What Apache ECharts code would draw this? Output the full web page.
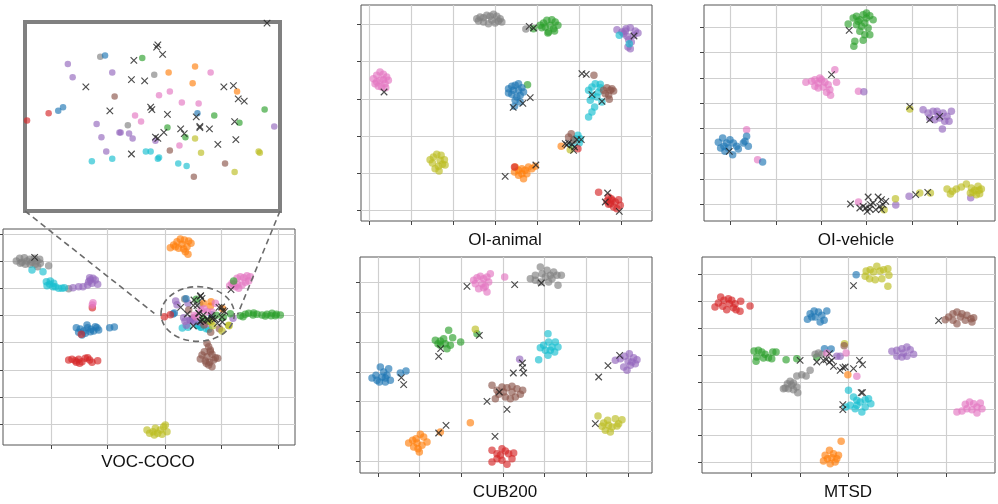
<!DOCTYPE html>
<html>
<head>
<meta charset="utf-8">
<script src="https://cdn.jsdelivr.net/npm/echarts@6/dist/echarts.min.js"></script>
<style>html,body{margin:0;padding:0;background:#fff}#c{width:998px;height:504px}</style>
</head>
<body>
<div id="c"></div>
<script>
// ---------- panel titles ----------
const panelTitles = ['VOC-COCO', 'OI-animal', 'OI-vehicle', 'CUB200', 'MTSD'];

// ---------- VOC-COCO (units: embedding coordinates) ----------
const vocBlue = [[228,308],[240,312],[250,318],[262,308],[272,313],[285,305],[295,315],[235,322],[245,330],[255,325],[270,320],[280,318],[290,308],[260,300],[328,308],[342,306],[518,267],[522,264],[557,221],[634,269]];
const vocRed = [[205,405],[215,403],[225,407],[235,403],[245,410],[255,400],[268,405],[275,412],[292,407],[228,412],[238,415],[262,398],[243,328],[276,248],[492,275],[510,269]];
const vocGray = [[48,108],[58,100],[65,112],[72,98],[80,108],[88,103],[95,112],[102,100],[110,108],[118,103],[60,115],[75,118],[90,118],[105,118],[120,115],[112,125],[145,122],[205,191],[553,222],[598,237],[576,279]];
const vocCyan = [[95,135],[128,140],[138,170],[148,178],[160,175],[140,182],[165,185],[175,190],[185,190],[150,168],[158,185],[192,188],[546,309],[563,307],[591,301],[595,301],[602,306],[601,307],[618,311],[625,313]];
const vocPurple = [[218,188],[235,185],[248,185],[262,180],[270,165],[278,160],[285,165],[292,178],[265,170],[275,175],[268,158],[526,228],[530,239],[563,235],[550,278],[554,289],[569,285],[570,285],[577,286],[580,290],[558,301],[599,292],[698,280]];
const vocPink = [[278,233],[276,240],[688,182],[695,175],[710,160],[720,155],[730,158],[740,152],[750,155],[705,185],[715,190],[725,180],[735,172],[745,168],[712,178],[700,178],[645,235],[602,254],[611,251],[621,260],[635,261],[582,271],[587,276],[619,296]];
const vocGreen = [[700,168],[720,272],[735,268],[745,265],[758,270],[770,268],[785,270],[800,268],[815,265],[828,268],[840,270],[825,272],[812,272],[760,264],[728,275],[795,273],[588,223],[609,281],[624,289],[648,271],[669,277],[690,266]];
const vocOrange = [[510,68],[520,60],[530,50],[540,42],[552,45],[565,48],[572,55],[545,58],[535,70],[550,72],[555,80],[563,88],[525,65],[560,65],[610,235],[632,230],[630,244],[667,251]];
const vocBrown = [[620,355],[625,365],[630,375],[612,380],[605,390],[620,395],[635,388],[645,398],[600,402],[615,408],[628,412],[640,405],[652,400],[625,420],[635,425],[618,415],[630,380],[565,255],[611,300],[631,322],[657,311]];
const vocOlive = [[440,615],[448,625],[458,620],[465,610],[472,625],[480,615],[490,605],[500,620],[485,628],[462,630],[495,600],[632,290],[637,302],[685,301],[686,302],[665,318]];
const vocCross = [[103,97],[692,194],[601,212],[600,214],[605,220],[581,225],[579,241],[590,242],[541,247],[656,247],[664,246],[668,257],[673,259],[561,267],[595,264],[596,266],[609,270],[633,272],[665,276],[620,282],[623,286],[636,280],[636,281],[644,282],[606,285],[599,289],[601,290],[651,295],[666,291],[579,303]];

// ---------- OI-animal ----------
const aniGray = [[365,55],[375,50],[385,52],[395,45],[405,48],[415,42],[425,48],[435,55],[440,65],[420,68],[400,70],[385,65],[410,60],[430,62],[370,62],[512,86]];
const aniGreen = [[555,75],[565,68],[575,60],[590,58],[600,65],[608,75],[595,85],[580,95],[570,80],[585,75],[598,92],[560,82],[578,98],[535,85],[517,253]];
const aniPurple = [[785,88],[800,95],[812,85],[825,82],[840,92],[848,98],[835,105],[820,118],[815,108],[805,100],[825,145],[818,140],[828,125],[810,92]];
const aniPink = [[55,235],[65,225],[75,215],[85,222],[95,230],[100,240],[90,250],[80,260],[70,258],[60,250],[75,240],[85,238],[65,245],[92,262]];
const aniBlue = [[460,265],[470,258],[480,255],[490,250],[500,262],[505,275],[495,285],[485,290],[470,282],[460,278],[475,270],[490,270],[480,300],[495,305],[478,318]];
const aniCyan = [[792,105],[822,130],[700,270],[710,260],[720,250],[735,252],[712,285],[725,290],[730,275],[705,300],[718,320],[710,335],[700,350],[740,305],[735,262],[668,405],[675,415],[660,415],[650,435],[672,428]];
const aniBrown = [[716,225],[745,270],[755,262],[765,270],[775,272],[760,285],[750,280],[762,297],[770,265],[648,400],[640,410],[655,420]];
const aniOrange = [[618,438],[480,500],[490,510],[500,505],[510,510],[520,500],[530,505],[500,520],[505,535],[490,525],[515,520],[478,515],[540,498]];
const aniOlive = [[645,448],[225,478],[235,470],[245,462],[258,465],[268,478],[262,492],[250,498],[240,505],[252,512],[232,488],[270,494],[255,480]];
const aniRed = [[668,445],[478,500],[730,576],[760,590],[770,600],[780,605],[790,598],[795,615],[775,620],[765,610],[755,602],[785,625],[768,595],[760,612]];
const aniCross = [[87,275],[522,78],[535,83],[836,107],[474,321],[503,309],[525,292],[680,220],[693,222],[710,283],[740,303],[630,430],[640,428],[650,432],[665,418],[678,418],[655,450],[658,440],[635,434],[450,528],[542,494],[757,578],[750,605],[792,633]];

// ---------- OI-vehicle ----------
const vehGreen = [[445,73],[460,55],[470,50],[480,60],[490,45],[500,55],[510,48],[520,60],[495,70],[485,80],[470,75],[505,85],[480,95],[495,105],[510,105],[465,125],[490,122],[462,140],[475,65],[500,40]];
const vehPink = [[318,248],[335,245],[345,240],[355,250],[365,240],[375,248],[385,255],[390,270],[380,278],[370,262],[355,265],[345,260],[392,287],[405,210],[410,248],[360,235],[476,275],[140,390],[173,480],[476,607]];
const vehPurple = [[492,276],[670,330],[685,340],[700,335],[715,345],[730,340],[742,350],[755,335],[748,365],[735,365],[720,355],[705,360],[728,388],[690,355],[712,335],[588,616],[628,590],[813,594]];
const vehOlive = [[630,328],[587,597],[553,630],[660,580],[692,580],[742,568],[758,575],[770,568],[785,562],[800,553],[815,565],[825,572],[835,560],[845,568],[830,585],[812,580],[840,582],[752,583],[820,578],[838,572]];
const vehBlue = [[55,428],[68,415],[80,430],[90,420],[100,430],[110,440],[115,448],[98,465],[75,455],[62,445],[85,445],[135,425],[140,410],[145,440],[130,430],[188,487],[72,440]];
const vehCross = [[448,92],[395,225],[630,320],[690,360],[720,350],[88,455],[452,613],[490,620],[498,625],[505,592],[512,615],[520,610],[528,630],[535,592],[545,600],[550,615],[558,605],[545,630],[502,635],[510,628],[480,625],[540,620],[648,585],[684,578]];

// ---------- CUB200 ----------
const cubPink = [[355,90],[365,82],[375,78],[385,85],[395,80],[405,70],[400,95],[390,108],[380,100],[370,115],[360,100],[395,125],[385,112],[448,80]];
const cubGray = [[525,85],[540,75],[555,50],[560,70],[575,60],[585,75],[595,65],[605,75],[618,75],[608,105],[580,95],[570,80],[555,95],[540,90],[590,85]];
const cubGreen = [[240,270],[255,272],[265,265],[280,240],[292,262],[285,285],[275,295],[255,285],[270,280],[316,275],[365,250],[248,280]];
const cubOlive = [[360,237],[728,497],[745,518],[757,510],[770,530],[780,505],[790,520],[800,508],[785,527],[765,545],[750,540],[740,528],[760,525]];
const cubCyan = [[578,250],[580,275],[565,285],[555,292],[570,300],[590,290],[600,275],[608,290],[598,305],[578,315],[550,328],[585,300]];
const cubPurple = [[493,327],[780,330],[795,325],[808,318],[822,310],[835,322],[845,328],[840,340],[825,345],[815,360],[805,350],[830,335],[818,332]];
const cubBlue = [[50,383],[62,375],[75,350],[85,365],[95,375],[100,355],[105,390],[90,395],[72,395],[80,380],[135,368],[152,362],[65,390],[90,383]];
const cubBrown = [[410,405],[425,420],[440,410],[455,412],[470,408],[485,415],[502,420],[495,432],[480,440],[465,445],[450,440],[430,432],[420,445],[445,425],[470,425]];
const cubOrange = [[160,578],[172,570],[182,565],[195,552],[205,560],[215,575],[200,585],[188,595],[175,590],[192,605],[345,517],[255,545],[185,578]];
const cubRed = [[410,600],[425,610],[440,595],[450,602],[460,610],[475,608],[470,625],[455,642],[440,630],[425,625],[410,635],[435,615]];
const cubCross = [[335,108],[478,103],[558,98],[256,295],[250,318],[372,255],[501,338],[502,352],[505,368],[474,368],[138,382],[145,403],[793,315],[758,346],[730,380],[432,425],[395,453],[455,477],[720,520],[250,548],[272,525],[419,558]];

// ---------- MTSD ----------
const mtRed = [[45,170],[55,158],[62,140],[72,150],[85,145],[95,150],[105,160],[100,172],[80,178],[68,168],[120,183],[122,153],[150,167],[88,160],[108,178]];
const mtOlive = [[498,62],[510,58],[520,65],[530,48],[540,62],[550,58],[563,55],[566,75],[545,85],[525,88],[508,85],[495,78],[563,108],[433,280]];
const mtBlue = [[468,73],[322,207],[330,190],[342,182],[355,185],[365,195],[380,182],[372,210],[360,215],[345,200],[335,200],[373,295],[393,296]];
const mtBrown = [[735,208],[745,200],[758,190],[770,185],[785,190],[800,195],[812,205],[820,202],[815,215],[795,210],[770,220],[758,210],[780,200],[432,286]];
const mtGreen = [[162,302],[175,300],[185,305],[195,312],[205,322],[215,325],[228,305],[218,305],[170,320],[168,333],[190,323],[258,328],[290,325],[350,320]];
const mtGray = [[345,312],[355,308],[365,312],[330,360],[318,377],[305,373],[290,377],[255,413],[262,400],[270,393],[280,398],[290,410],[275,405],[265,415],[280,418],[293,427],[250,415]];
const mtPurple = [[420,318],[410,318],[575,303],[590,300],[605,295],[620,290],[630,298],[640,312],[620,318],[605,320],[590,318],[610,308]];
const mtPink = [[438,308],[380,308],[470,378],[770,485],[785,482],[795,462],[808,455],[820,460],[830,470],[840,458],[845,475],[830,488],[815,478],[800,475]];
const mtOrange = [[443,373],[423,573],[388,600],[375,615],[382,625],[395,622],[410,625],[415,615],[400,610],[390,640],[370,632],[405,635]];
const mtCyan = [[445,420],[460,440],[470,450],[480,455],[495,448],[505,445],[512,460],[495,470],[485,485],[470,465],[450,465],[437,470],[465,475]];
const mtCross = [[460,106],[715,211],[300,330],[350,335],[370,330],[378,328],[388,335],[395,330],[400,348],[420,360],[428,352],[435,350],[460,355],[478,330],[487,343],[428,463],[428,478],[487,427],[483,427],[388,310]];

// ---------- axis ranges and grid-line values per panel ----------
const vocXRange = [8, 884],  vocYRange = [12, 660];
const vocXTicks = [152,322,494,664,834], vocYTicks = [27,108,190,270,352,435,517,598];
const insetXRange = [490.3, 702.8], insetYRange = [193, 350.5];
const aniXRange = [18, 890], aniYRange = [14, 662];
const aniXTicks = [42,168,294,420,546,672,798], aniYTicks = [72,184,296,408,520,631];
const vehXRange = [12, 886], vehYRange = [16, 664];
const vehXTicks = [92,228,364,500,637,773], vehYTicks = [84,158,235,310,387,462,538,614];
const cubXRange = [14, 890], cubYRange = [20, 668];
const cubXTicks = [68,193,318,443,568,694,820], cubYTicks = [97,187,276,365,454,544,633];
const mtXRange = [6, 884], mtYRange = [20, 668];
const mtXTicks = [153,299,445,592,739], mtYTicks = [73,154,235,316,396,476,556,637];
// highlighted region of VOC-COCO (centre and semi-axes, data units)
const vocFocus = {cx: 592, cy: 267, rx: 110, ry: 82};

const C = {blue:'#1f77b4', orange:'#ff7f0e', green:'#2ca02c', red:'#d62728', purple:'#9467bd',
           brown:'#8c564b', pink:'#e377c2', gray:'#7f7f7f', olive:'#bcbd22', cyan:'#17becf'};
const CROSS = 'path://M0,0L10,10M10,0L0,10';

const grids = [
  {left: 3,   top: 229, width: 292, height: 216},
  {left: 25,  top: 22,  width: 255, height: 189},
  {left: 361, top: 5,   width: 291, height: 216},
  {left: 704, top: 5,   width: 291, height: 216},
  {left: 360, top: 257, width: 292, height: 216},
  {left: 702, top: 257, width: 293, height: 216}
].map((g, i) => Object.assign({show: true, borderColor: i === 1 ? '#808080' : '#555', borderWidth: i === 1 ? 4 : 1, backgroundColor: 'transparent'}, g));

function mkAxis(idx, range, ticks, isY) {
  return {
    gridIndex: idx, type: 'value', min: range[0], max: range[1], inverse: !!isY,
    axisLine: {show: false}, axisLabel: {show: false},
    axisTick: ticks ? {show: true, length: 4, customValues: ticks, lineStyle: {color: '#444', width: 1}} : {show: false},
    splitLine: ticks ? {show: true, lineStyle: {color: '#cfcfcf', width: 1.2}} : {show: false}
  };
}
const axesDef = [
  [vocXRange, vocXTicks, vocYRange, vocYTicks],
  [insetXRange, null, insetYRange, null],
  [aniXRange, aniXTicks, aniYRange, aniYTicks],
  [vehXRange, vehXTicks, vehYRange, vehYTicks],
  [cubXRange, cubXTicks, cubYRange, cubYTicks],
  [mtXRange, mtXTicks, mtYRange, mtYTicks]
];
const xAxis = axesDef.map((d, i) => mkAxis(i, d[0], d[1], false));
const yAxis = axesDef.map((d, i) => mkAxis(i, d[2], d[3], true));

const series = [];
function addPanel(idx, groups, crosses, dotSize) {
  groups.forEach(([d, col]) => series.push({
    type: 'scatter', xAxisIndex: idx, yAxisIndex: idx, data: d, symbol: 'circle', symbolSize: dotSize,
    itemStyle: {color: col, opacity: 0.65}, silent: true, z: 2, clip: true
  }));
  series.push({
    type: 'scatter', xAxisIndex: idx, yAxisIndex: idx, data: crosses, symbol: CROSS, symbolSize: 6.5,
    itemStyle: {color: 'none', borderColor: '#222', borderWidth: 1.2, opacity: 0.8}, silent: true, z: 3, clip: true
  });
}
const vocGroups = [[vocGray,C.gray],[vocCyan,C.cyan],[vocPurple,C.purple],[vocBlue,C.blue],[vocRed,C.red],[vocOrange,C.orange],[vocPink,C.pink],[vocGreen,C.green],[vocBrown,C.brown],[vocOlive,C.olive]];
addPanel(0, vocGroups, vocCross, 7.5);
addPanel(1, vocGroups, vocCross, 6.5);
addPanel(2, [[aniGray,C.gray],[aniGreen,C.green],[aniPurple,C.purple],[aniPink,C.pink],[aniBlue,C.blue],[aniCyan,C.cyan],[aniBrown,C.brown],[aniOrange,C.orange],[aniOlive,C.olive],[aniRed,C.red]], aniCross, 7.5);
addPanel(3, [[vehGreen,C.green],[vehPink,C.pink],[vehPurple,C.purple],[vehOlive,C.olive],[vehBlue,C.blue]], vehCross, 7.5);
addPanel(4, [[cubPink,C.pink],[cubGray,C.gray],[cubGreen,C.green],[cubOlive,C.olive],[cubCyan,C.cyan],[cubPurple,C.purple],[cubBlue,C.blue],[cubBrown,C.brown],[cubOrange,C.orange],[cubRed,C.red]], cubCross, 7.5);
addPanel(5, [[mtRed,C.red],[mtOlive,C.olive],[mtBlue,C.blue],[mtBrown,C.brown],[mtGreen,C.green],[mtGray,C.gray],[mtPurple,C.purple],[mtPink,C.pink],[mtOrange,C.orange],[mtCyan,C.cyan]], mtCross, 7.5);

const chart = echarts.init(document.getElementById('c'), null, {renderer: 'canvas'});
chart.setOption({animation: false, backgroundColor: '#fff', grid: grids, xAxis: xAxis, yAxis: yAxis, series: series});

// ---------- annotations derived from the axes ----------
const p = (gi, v) => chart.convertToPixel({xAxisIndex: gi, yAxisIndex: gi}, v);
const cen = p(0, [vocFocus.cx, vocFocus.cy]);
const ex = p(0, [vocFocus.cx + vocFocus.rx, vocFocus.cy]);
const ey = p(0, [vocFocus.cx, vocFocus.cy + vocFocus.ry]);
const insBL = p(1, [insetXRange[0], insetYRange[1]]);
const insBR = p(1, [insetXRange[1], insetYRange[1]]);
const leftEnd = p(0, [vocFocus.cx - vocFocus.rx - 20, vocFocus.cy - 2]);
const rightEnd = p(0, [vocFocus.cx + vocFocus.rx + 10, vocFocus.cy + 1]);
const dash = {stroke: '#6b6b6b', lineWidth: 1.6, lineDash: [6, 4], fill: null};

const titlePos = [[148, 462], [505, 240], [856, 240], [505, 492], [848, 492]];
const graphic = [
  {type: 'ellipse', shape: {cx: cen[0], cy: cen[1], rx: Math.abs(ex[0] - cen[0]), ry: Math.abs(ey[1] - cen[1])}, style: dash, z: 10, silent: true},
  {type: 'line', shape: {x1: insBL[0], y1: insBL[1], x2: leftEnd[0], y2: leftEnd[1]}, style: dash, z: 10, silent: true},
  {type: 'line', shape: {x1: insBR[0], y1: insBR[1], x2: rightEnd[0], y2: rightEnd[1]}, style: dash, z: 10, silent: true}
];
panelTitles.forEach((t, i) => graphic.push({
  type: 'text', x: titlePos[i][0], y: titlePos[i][1], silent: true, z: 10,
  style: {text: t, font: '17px "Liberation Sans", Arial, sans-serif', fill: '#111', textAlign: 'center', textVerticalAlign: 'middle'}
}));
chart.setOption({graphic: graphic});
</script>
</body>
</html>
